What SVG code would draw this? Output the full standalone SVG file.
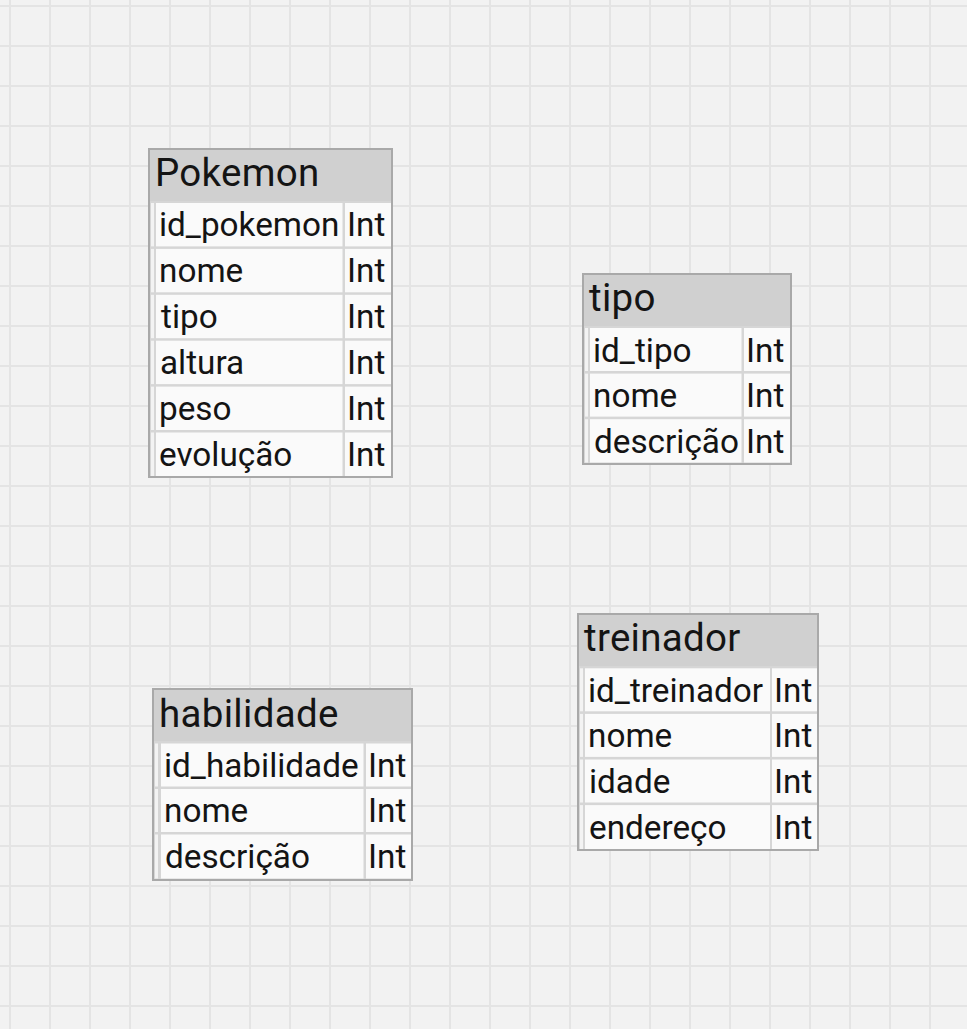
<svg xmlns="http://www.w3.org/2000/svg" width="967" height="1029" viewBox="0 0 967 1029">
<defs>
<pattern id="grid" patternUnits="userSpaceOnUse" x="0" y="0" width="40" height="40">
<rect width="40" height="40" fill="#f2f2f2"/>
<rect x="9" y="0" width="2" height="40" fill="#e4e4e4"/>
<rect x="0" y="5" width="40" height="2" fill="#e4e4e4"/>
</pattern>
</defs>
<style>
.body{fill:#d6d6d6}
.border{fill:none;stroke:#a9a9a9;stroke-width:2}
.hdr{fill:#d0d0d0}
.strip{fill:#f3f3f3}
.cell{fill:#fafafa}
.ht{font-family:Roboto,"Liberation Sans",sans-serif;font-size:38.5px;letter-spacing:0.3px;fill:#141414}
.rt{font-family:Roboto,"Liberation Sans",sans-serif;font-size:33.3px;fill:#141414}
</style>
<rect width="967" height="1029" fill="url(#grid)"/>
<g id="connectors"/>

<g id="pokemon">
<rect class="body" x="149" y="149" width="243" height="328"/>
<rect class="hdr" x="150" y="150" width="241" height="51"/>
<g>
<rect class="strip" x="151" y="203" width="3" height="43.4"/><rect class="cell" x="156" y="203" width="186.5" height="43.4"/><rect class="cell" x="345" y="203" width="46" height="43.4"/>
<rect class="strip" x="151" y="248.9" width="3" height="43.4"/><rect class="cell" x="156" y="248.9" width="186.5" height="43.4"/><rect class="cell" x="345" y="248.9" width="46" height="43.4"/>
<rect class="strip" x="151" y="294.8" width="3" height="43.4"/><rect class="cell" x="156" y="294.8" width="186.5" height="43.4"/><rect class="cell" x="345" y="294.8" width="46" height="43.4"/>
<rect class="strip" x="151" y="340.7" width="3" height="43.4"/><rect class="cell" x="156" y="340.7" width="186.5" height="43.4"/><rect class="cell" x="345" y="340.7" width="46" height="43.4"/>
<rect class="strip" x="151" y="386.6" width="3" height="43.4"/><rect class="cell" x="156" y="386.6" width="186.5" height="43.4"/><rect class="cell" x="345" y="386.6" width="46" height="43.4"/>
<rect class="strip" x="151" y="432.5" width="3" height="43.5"/><rect class="cell" x="156" y="432.5" width="186.5" height="43.5"/><rect class="cell" x="345" y="432.5" width="46" height="43.5"/>
</g>
<rect class="border" x="149" y="149" width="243" height="328"/>
<text class="ht" x="155" y="186">Pokemon</text>
<text class="rt" x="159" y="236">id_pokemon</text><text class="rt" x="347" y="236">Int</text>
<text class="rt" x="159" y="282">nome</text><text class="rt" x="347" y="282">Int</text>
<text class="rt" x="161" y="328">tipo</text><text class="rt" x="347" y="328">Int</text>
<text class="rt" x="160" y="374">altura</text><text class="rt" x="347" y="374">Int</text>
<text class="rt" x="159" y="420">peso</text><text class="rt" x="347" y="420">Int</text>
<text class="rt" x="159" y="466">evolução</text><text class="rt" x="347" y="466">Int</text>
</g>

<g id="tipo">
<rect class="body" x="583" y="274" width="208" height="190"/>
<rect class="hdr" x="584" y="275" width="206" height="51"/>
<rect class="strip" x="585" y="328" width="3" height="43"/><rect class="cell" x="590" y="328" width="151.5" height="43"/><rect class="cell" x="744" y="328" width="46" height="43"/>
<rect class="strip" x="585" y="373.6" width="3" height="43"/><rect class="cell" x="590" y="373.6" width="151.5" height="43"/><rect class="cell" x="744" y="373.6" width="46" height="43"/>
<rect class="strip" x="585" y="419.2" width="3" height="43.3"/><rect class="cell" x="590" y="419.2" width="151.5" height="43.3"/><rect class="cell" x="744" y="419.2" width="46" height="43.3"/>
<rect class="border" x="583" y="274" width="208" height="190"/>
<text class="ht" x="589" y="311">tipo</text>
<text class="rt" x="593" y="362">id_tipo</text><text class="rt" x="746" y="362">Int</text>
<text class="rt" x="593" y="407">nome</text><text class="rt" x="746" y="407">Int</text>
<text class="rt" x="594" y="453">descrição</text><text class="rt" x="746" y="453">Int</text>
</g>

<g id="habilidade">
<rect class="body" x="153" y="689" width="259" height="191"/>
<rect class="hdr" x="154" y="690" width="257" height="51"/>
<rect class="strip" x="155" y="743.5" width="3" height="43"/><rect class="cell" x="161" y="743.5" width="202.5" height="43"/><rect class="cell" x="366" y="743.5" width="45" height="43"/>
<rect class="strip" x="155" y="789" width="3" height="43"/><rect class="cell" x="161" y="789" width="202.5" height="43"/><rect class="cell" x="366" y="789" width="45" height="43"/>
<rect class="strip" x="155" y="834.5" width="3" height="44"/><rect class="cell" x="161" y="834.5" width="202.5" height="44"/><rect class="cell" x="366" y="834.5" width="45" height="44"/>
<rect class="border" x="153" y="689" width="259" height="191"/>
<text class="ht" x="159" y="727">habilidade</text>
<text class="rt" x="164" y="777">id_habilidade</text><text class="rt" x="368" y="777">Int</text>
<text class="rt" x="164" y="822">nome</text><text class="rt" x="368" y="822">Int</text>
<text class="rt" x="165" y="868">descrição</text><text class="rt" x="368" y="868">Int</text>
</g>

<g id="treinador">
<rect class="body" x="578" y="614" width="240" height="236"/>
<rect class="hdr" x="579" y="615" width="238" height="51"/>
<rect class="strip" x="580" y="668.3" width="3" height="43"/><rect class="cell" x="585" y="668.3" width="185" height="43"/><rect class="cell" x="772" y="668.3" width="45" height="43"/>
<rect class="strip" x="580" y="713.9" width="3" height="43"/><rect class="cell" x="585" y="713.9" width="185" height="43"/><rect class="cell" x="772" y="713.9" width="45" height="43"/>
<rect class="strip" x="580" y="759.5" width="3" height="43"/><rect class="cell" x="585" y="759.5" width="185" height="43"/><rect class="cell" x="772" y="759.5" width="45" height="43"/>
<rect class="strip" x="580" y="805.1" width="3" height="43.9"/><rect class="cell" x="585" y="805.1" width="185" height="43.9"/><rect class="cell" x="772" y="805.1" width="45" height="43.9"/>
<rect class="border" x="578" y="614" width="240" height="236"/>
<text class="ht" x="584" y="651">treinador</text>
<text class="rt" x="588" y="702">id_treinador</text><text class="rt" x="774" y="702">Int</text>
<text class="rt" x="588" y="747">nome</text><text class="rt" x="774" y="747">Int</text>
<text class="rt" x="589" y="793">idade</text><text class="rt" x="774" y="793">Int</text>
<text class="rt" x="589" y="839">endereço</text><text class="rt" x="774" y="839">Int</text>
</g>
</svg>
